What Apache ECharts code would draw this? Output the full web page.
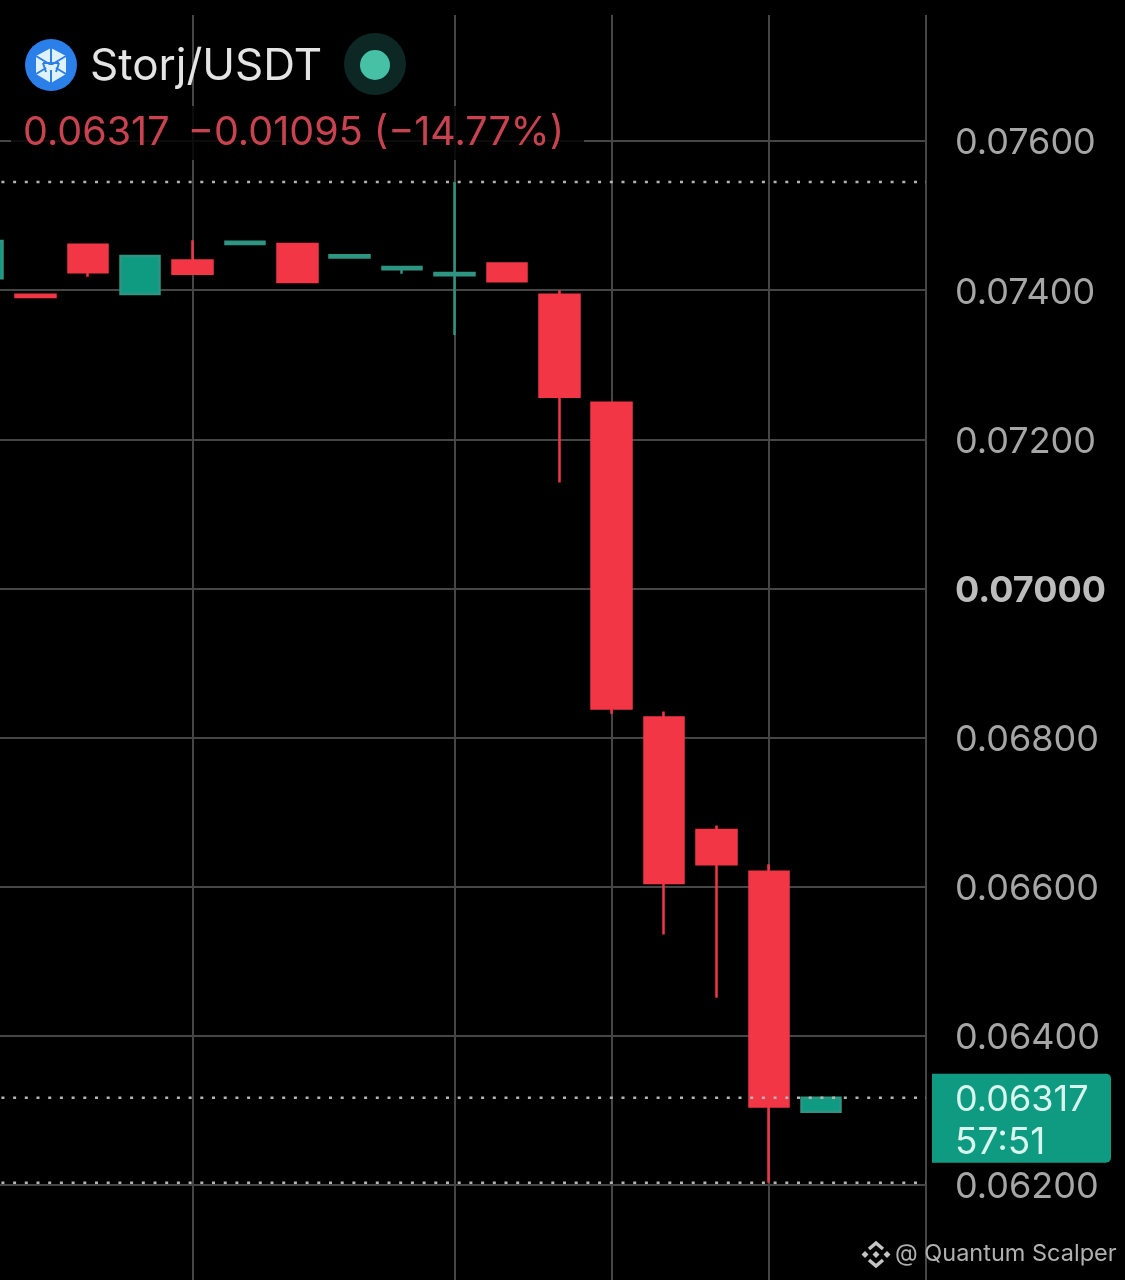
<!DOCTYPE html>
<html><head><meta charset="utf-8">
<style>html,body{margin:0;padding:0;background:#000}#c{width:1125px;height:1280px}</style>
<script src="https://cdn.jsdelivr.net/npm/echarts@6/dist/echarts.min.js"></script>
</head><body><div id="c"></div>
<script>
// Candle order: open, close, low, high
const categories = ['c0','c1','c2','c3','c4','c5','c6','c7','c8','c9','c10','c11','c12','c13','c14','c15','c16','c17','c18'];
const opens  = [0.07416,0.07394,0.07461,0.07395,0.07440,0.07462,0.07462,0.07444,0.07428,0.07420,0.07436,0.07394,0.07249,0.06827,0.06676,0.06620,0.06298];
const closes = [0.07466,0.07391,0.07424,0.07446,0.07422,0.07465,0.07411,0.07447,0.07431,0.07423,0.07412,0.07257,0.06839,0.06605,0.06630,0.06305,0.06317];
const lows   = [0.07416,0.07391,0.07418,0.07395,0.07422,0.07462,0.07411,0.07444,0.07422,0.07340,0.07412,0.07142,0.06832,0.06536,0.06451,0.06203,0.06298];
const highs  = [0.07466,0.07394,0.07461,0.07446,0.07467,0.07465,0.07462,0.07447,0.07431,0.07545,0.07436,0.07400,0.07249,0.06835,0.06682,0.06630,0.06317];
const verticalGridIdx = [4,9,12,15,18];
const dottedLevels = [0.07545,0.06317,0.06203];
const lastPrice = 0.06317;
const boldTick = '0.07000';
const titleText = 'Storj/USDT';
const changeText = '0.06317 \u2009\u22120.01095 (\u221214.77%)';
const countdown = '57:51';
const watermark = '@ Quantum Scalper';

const RED='#f23645', GREEN='#0f9b82', GREEN_WICK='#2f9583', GRID='#464646', BLUE='#2b7fe8', PETAL='#dff1fb', WM='#c4c4c4';
const FONT='"Inter","Liberation Sans",sans-serif';
const candleData = opens.map((o,i)=>[o,closes[i],lows[i],highs[i]]);

const chart = echarts.init(document.getElementById('c'),null,{renderer:'canvas'});
function dia(cx,cy,r){return {type:'polygon',z:20,shape:{points:[[cx,cy-r],[cx+r,cy],[cx,cy+r],[cx-r,cy]]},style:{fill:WM}};}
function chev(pts){return {type:'polyline',z:20,shape:{points:pts},style:{fill:'none',stroke:WM,lineWidth:3.5}};}
function spoke(a,b){return {type:'line',z:22,shape:{x1:a[0],y1:a[1],x2:b[0],y2:b[1]},style:{stroke:BLUE,lineWidth:2}};}
const dottedSeries = dottedLevels.map(v=>({type:'line',data:categories.map(()=>v),showSymbol:false,silent:true,z:3,
  lineStyle:{color:'#b5b5b5',type:[3,8.7],dashOffset:5,width:2.5}}));
const option = {
  animation:false,
  backgroundColor:'#000',
  grid:{left:-17,width:943,top:-8,height:1342,containLabel:false,outerBoundsMode:'none'},
  xAxis:{type:'category',data:categories,boundaryGap:false,
    axisLine:{show:false},axisTick:{show:false},axisLabel:{show:false},
    splitLine:{show:true,interval:(i)=>verticalGridIdx.includes(i),lineStyle:{color:GRID,width:2}}},
  yAxis:{type:'value',position:'right',min:0.06,max:0.078,interval:0.002,scale:true,
    axisLine:{show:false},axisTick:{show:false},
    splitLine:{show:true,lineStyle:{color:GRID,width:2}},
    axisLabel:{show:true,margin:29,color:'#a6a6a6',fontFamily:FONT,fontSize:36,padding:[5,0,0,0],
      formatter:(v)=>{const s=v.toFixed(5);
        if(s==='0.06000'||s==='0.07800')return '';
        return s===boldTick?'{b|'+s+'}':s;},
      rich:{b:{color:'#bcbcbc',fontFamily:FONT,fontSize:36,fontWeight:'bold'}}}},
  series:[{type:'candlestick',data:candleData,barWidth:40,clip:true,z:2,
    itemStyle:{color:GREEN,color0:RED,borderColor:GREEN_WICK,borderColor0:RED,borderWidth:2.5}}].concat(dottedSeries),
  graphic:[]
};
chart.setOption(option);
const priceY = chart.convertToPixel({yAxisIndex:0},lastPrice);
chart.setOption({graphic:[
  {type:'rect',z:1,shape:{x:0,y:0,width:1125,height:15},style:{fill:'#000'}},
  {type:'rect',z:1,shape:{x:11,y:106,width:573,height:54},style:{fill:'rgba(0,0,0,0.82)'}},
  {type:'circle',z:20,shape:{cx:51,cy:65,r:26},style:{fill:BLUE}},
  {type:'polygon',z:21,shape:{points:[[51,48],[66,56],[66,74],[51,83],[36,74],[36,56]]},style:{fill:PETAL}},
  spoke([51,65],[51,48]),spoke([51,65],[66,56]),spoke([51,65],[36,56]),spoke([51,65],[66,74]),spoke([51,65],[36,74]),spoke([51,65],[51,83]),
  spoke([43,63],[59,63]),spoke([43,63],[46,72]),spoke([59,63],[56,72]),
  {type:'polygon',z:23,shape:{points:[[45,65],[57,65],[55,70],[47,70]]},style:{fill:PETAL}},
  {type:'text',z:20,style:{x:90,y:67,text:titleText,fill:'#e4e4e4',font:'44px '+FONT,textVerticalAlign:'middle'}},
  {type:'circle',z:20,shape:{cx:375,cy:64,r:31},style:{fill:'#0c2724'}},
  {type:'circle',z:21,shape:{cx:375,cy:65,r:15},style:{fill:'#46c1a6'}},
  {type:'text',z:20,style:{x:23,y:133,text:changeText,fill:'#c8434f',font:'39.5px '+FONT,textVerticalAlign:'middle'}},
  {type:'rect',z:20,shape:{x:932,y:priceY-24,width:179,height:89,r:[0,5,5,0]},style:{fill:GREEN}},
  {type:'text',z:21,style:{x:955,y:priceY+3,text:lastPrice.toFixed(5),fill:'#d8f5ee',font:'36px '+FONT,textVerticalAlign:'middle'}},
  {type:'text',z:21,style:{x:955,y:priceY+45,text:countdown,fill:'#d8f5ee',font:'37px '+FONT,textVerticalAlign:'middle'}},
  chev([[869,1249],[876,1243],[883,1249]]),chev([[869,1260],[876,1266],[883,1260]]),
  dia(876,1254.5,3.5),dia(865,1254.5,3.5),dia(887,1254.5,3.5),
  {type:'text',z:20,style:{x:895,y:1254,text:watermark,fill:'#b0b0b0',font:'23.5px '+FONT,textVerticalAlign:'middle'}}
]});
</script></body></html>
